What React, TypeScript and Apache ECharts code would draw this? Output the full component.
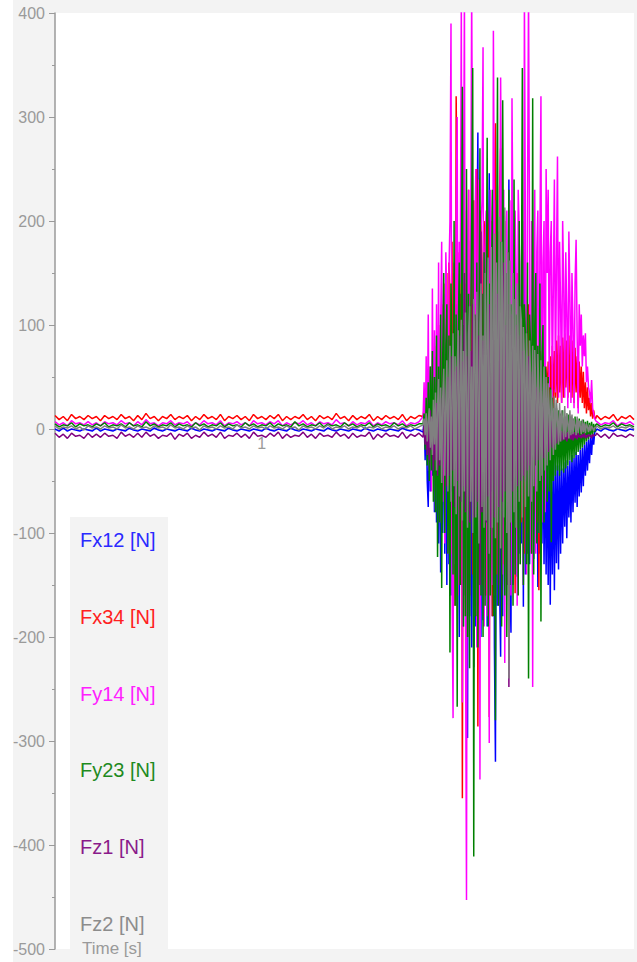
import React, { useEffect, useRef } from "react";
import * as echarts from "echarts";

// ---------- data ----------
const seriesNames = ["Fx12 [N]", "Fx34 [N]", "Fy14 [N]", "Fy23 [N]", "Fz1 [N]", "Fz2 [N]"];
const seriesColors = ["#0000ff", "#ff0000", "#ff00ff", "#008000", "#800080", "#808080"];
const legendTextColors = ["#2a2aff", "#ff2020", "#ff20ff", "#1e8a1e", "#8a1a8a", "#8c8c8c"];

const yMin = -500;
const yMax = 400;
const yStep = 100;
const timeMin = 0;
const timeMax = 2.8;
const timeTickLabels = ["1"];

// sampling of the recording (seconds)
const preStart = 0;
const preStep = 0.02;
const burstStart = 1.78;
const burstStep = 0.005;
const postStart = 2.62;
const postStep = 0.02;

// Fx12 (blue)
const fx12Pre = [
  0, -2, 1, -2, 0, -1, -2, 0, -1, -2,
  1, -2, 0, -1, -2, 0, -1, -2, 1, -1,
  -2, 0, -1, -2, 1, -1, -2, 0, -1, -2,
  0, -1, -2, 1, -1, -2, 0, -1, -2, 0,
  -1, -2, 1, -1, -2, 0, -1, -2, 0, -1,
  -2, 1, -1, -2, 0, -1, -2, 1, -1, -2,
  0, -1, -2, 0, -1, -2, 1, -1, -2, 0,
  -1, -2, 0, -1, -2, 1, -1, -2, 0, -1,
  -2, 0, -1, -2, 1, -1, -2, 0, -1,
];
const fx12Burst = [
  -3, 10, -30, 20, -50, -75, 25, -60, 35, -45, 40, -80,
  50, -90, 60, -110, 45, -138, 70, -100, 80, -120, 60, -150,
  90, -130, 100, -160, 80, -180, 110, -140, 120, -170, 100, -200,
  130, -150, 110, -190, 140, -160, 120, -297, 150, -180, 130, -210,
  160, -229, 140, -190, 170, 285, -170, 150, -200, 130, -184, 160,
  -160, 140, -190, 120, 246, -150, 130, -180, 110, -210, -320, 100,
  -170, 120, -150, -219, 90, -180, 110, -160, 100, -150, 80, 240,
  -140, -196, 90, -150, 70, -130, 80, -142, 60, -120, 70, -110,
  90, -171, 180, -140, 60, -120, 50, -130, 40, -110, 30, -125,
  35, -100, 20, -152, 25, -120, 10, -110, 0, -130, -20, -140,
  -30, -150, -25, -169, -35, -140, -30, -155, -28, -129, -35, -135,
  -30, -120, -38, -110, -32, -94, -30, -105, -35, -85, -30, -90,
  -25, -80, -28, -71, -22, -75, -25, -65, -20, -61, -18, -55,
  -15, -45, -12, -40, -10, -33, -8, -25, -5, -15, -3, -2,
];
const fx12Post = [0, -2, 1, -1, -2, 0, -1, -2, 0, -1];

// Fx34 (red)
const fx34Pre = [
  13, 9, 12, 8, 14, 10, 12, 9, 13, 10,
  12, 8, 13, 10, 12, 9, 14, 10, 12, 8,
  13, 9, 15, 10, 12, 8, 12, 10, 14, 9,
  12, 10, 13, 8, 12, 9, 14, 10, 12, 9,
  14, 8, 12, 10, 13, 9, 12, 8, 14, 10,
  12, 9, 13, 10, 14, 8, 12, 9, 12, 10,
  14, 9, 12, 8, 13, 10, 12, 9, 15, 10,
  12, 8, 13, 9, 12, 10, 14, 8, 12, 9,
  13, 10, 12, 9, 14, 8, 12, 10, 13,
];
const fx34Burst = [
  12, 20, -5, 35, -15, 50, -25, 40, -35, 60, -20, 70,
  -50, 80, -40, 100, -70, 90, 120, -60, 140, -90, 110, 150,
  -100, 160, 130, -120, 180, -140, 150, -170, 320, 200, -110, 170,
  -150, 190, -355, 160, 210, -180, 140, -200, 230, -160, 180, 200,
  -140, 220, -170, 190, 250, -286, 170, -190, 210, 160, -150, 200,
  180, -160, 220, 190, -277, 170, 200, -180, 150, 210, 294, -140,
  190, -150, 230, 270, -160, 180, -130, 200, 160, -150, 170, 140,
  -120, 160, 150, -110, 140, -158, 130, 150, -100, 120, 110, -90,
  130, 100, -120, 110, 90, -100, 120, 80, -110, 100, 90, -80,
  85, 70, -90, 80, -155, 75, 60, -60, 70, 50, -40, 60,
  30, 65, -20, 70, 25, 80, 20, 75, 30, 85, 25, 90,
  35, 80, 25, 88, 30, 92, 40, 85, 30, 90, 35, 80,
  30, 85, 25, 78, 35, 70, 20, 65, 30, 60, 25, 55,
  20, 45, 15, 40, 18, 30, 12, 25, 10, 18, 11, 10,
];
const fx34Post = [13, 9, 12, 10, 14, 8, 12, 10, 13, 9];

// Fy14 (magenta)
const fy14Pre = [
  7, 4, 6, 3, 8, 5, 6, 4, 7, 4,
  6, 3, 7, 5, 6, 4, 8, 5, 6, 3,
  7, 4, 9, 5, 6, 3, 6, 5, 8, 4,
  6, 5, 7, 3, 6, 4, 8, 5, 6, 4,
  8, 3, 6, 5, 7, 4, 6, 3, 8, 5,
  6, 4, 7, 5, 8, 3, 6, 4, 6, 5,
  8, 4, 6, 3, 7, 5, 6, 4, 9, 5,
  6, 3, 7, 4, 6, 5, 8, 3, 6, 4,
  7, 5, 6, 4, 8, 3, 6, 5, 7,
];
const fy14Burst = [
  12, 45, -10, 70, -25, 110, -40, 60, -60, 135, -30, 95,
  -78, 120, -50, 160, -90, 100, 180, -70, 130, -110, 170, 120,
  -120, 150, 200, 390, -150, -278, 160, -130, 210, 300, -160, 180,
  140, 420, -263, 190, 420, -180, -453, 170, 230, -140, 160, 420,
  200, -170, 180, 250, -210, 160, 240, -337, 190, 220, 367, -190,
  170, 210, -180, 150, -302, 230, 190, -150, 383, 180, -160, 220,
  200, -170, 160, 338, 190, -140, 230, -225, 170, 210, -150, 180,
  220, -160, 318, 170, -140, 210, 150, -170, 230, 190, -130, 160,
  200, -150, 420, 180, -140, 220, 420, 170, -120, 200, -248, 160,
  230, -120, 170, 210, -100, 180, 320, -90, 160, 200, -80, 250,
  150, 230, 40, 170, 200, 30, 140, 240, 35, 160, 262, 30,
  180, 120, 25, 200, 140, 30, 170, 110, 20, 190, 130, 25,
  150, 100, 20, 140, 182, 90, 15, 120, 80, 110, 60, 90,
  70, 92, 45, 60, 40, 35, 25, 47, 20, 15, 10, 8,
];
const fy14Post = [7, 4, 6, 5, 8, 3, 6, 5, 7, 4];

// Fy23 (green)
const fy23Pre = [
  5, 2, 4, 3, 6, 2, 5, 3, 4, 2,
  5, 3, 6, 2, 4, 3, 5, 2, 6, 3,
  4, 2, 7, 3, 5, 2, 4, 3, 6, 2,
  5, 3, 4, 2, 6, 3, 5, 2, 4, 3,
  6, 2, 5, 3, 4, 2, 6, 3, 5, 2,
  4, 3, 6, 2, 5, 3, 4, 2, 7, 3,
  5, 2, 4, 3, 6, 2, 5, 3, 4, 2,
  6, 3, 5, 2, 4, 3, 6, 2, 5, 3,
  4, 2, 6, 3, 5, 2, 4, 3, 5,
];
const fy23Burst = [
  5, 15, -20, 30, -35, 45, -50, 60, -40, 75, -70, 50,
  -80, 90, -123, 60, -90, 110, -153, 70, 150, -100, 80, 120,
  -120, 90, -215, 140, 70, -140, 200, -170, 110, -267, 90, 160,
  -150, 120, 329, -190, 100, -180, 250, -200, 130, -230, 90, 200,
  347, -411, 110, -180, 160, -210, 90, 270, -160, 130, -200, 170,
  -170, 120, 280, -190, 140, -160, 100, 230, -180, 120, -280, 150,
  338, -170, 110, 180, -190, 316, 100, -160, 150, -200, 90, 230,
  -150, 120, 100, -170, 240, -140, 110, 90, -160, 200, -130, 100,
  347, -150, 120, 90, -130, 160, -240, 110, 80, -120, 318, -140,
  100, 150, -110, 80, -100, 140, -185, 70, 100, -90, 60, 50,
  -70, 50, -60, 40, -109, 30, -50, 25, -45, 20, -40, 18,
  -45, 15, -40, 18, -42, 12, -38, 15, -35, 14, -30, 12,
  -32, 10, -28, 12, -25, 9, -22, 10, -20, 8, -18, 9,
  -15, 7, -12, 8, -10, 6, -8, 7, -6, 5, -3, 4,
];
const fy23Post = [5, 2, 4, 3, 6, 2, 5, 3, 4, 2];

// Fz1 (purple)
const fz1Pre = [
  -4, -8, -5, -9, -4, -7, -6, -9, -4, -8,
  -5, -8, -4, -7, -6, -9, -3, -7, -5, -8,
  -4, -8, -3, -7, -5, -9, -6, -7, -4, -10,
  -5, -7, -4, -9, -6, -8, -3, -7, -5, -8,
  -3, -9, -6, -7, -4, -8, -5, -9, -3, -7,
  -6, -8, -4, -7, -3, -9, -5, -8, -6, -7,
  -3, -8, -5, -9, -4, -7, -6, -8, -3, -7,
  -5, -9, -4, -8, -6, -7, -3, -10, -5, -8,
  -4, -7, -6, -8, -3, -9, -5, -7, -4,
];
const fz1Burst = [
  -8, 5, -15, 12, -25, 8, -30, 18, -20, 10, -40, 15,
  -30, 25, -45, 20, -35, 30, -50, 25, 40, -40, 20, -55,
  50, -45, 35, -60, 70, -40, 55, -75, 60, -50, 80, -65,
  90, -70, 65, -55, 150, -80, 70, -65, 100, -90, 75, -60,
  120, -85, 60, -75, 110, -70, 90, -150, 190, -80, 85, -70,
  100, -90, 80, -65, 120, -95, 70, -60, 110, -85, 90, -55,
  130, -75, 110, -65, 90, -70, 160, -60, 100, -55, 120, -248,
  95, -50, 110, -60, 80, -45, 100, -55, 70, -40, 90, -50,
  75, -45, 65, -50, 60, -40, 70, -35, 55, -45, 50, -30,
  45, -35, 40, -30, 35, -25, 38, -20, 25, -28, 20, -18,
  15, -22, 12, -20, 8, -18, 6, -15, 4, -14, 2, -12,
  0, -12, -2, -11, -3, -10, -4, -12, -3, -9, -5, -10,
  -4, -11, -3, -9, -5, -10, -4, -8, -6, -9, -5, -8,
  -4, -9, -6, -8, -5, -7, -6, -9, -5, -7, -6, -6,
];
const fz1Post = [-4, -8, -5, -9, -4, -7, -6, -8, -5, -7];

// Fz2 (gray)
const fz2Pre = [
  3, 0, 2, 1, 3, 0, 2, -1, 3, 1,
  2, 0, 3, 1, 2, 0, 4, 1, 2, 0,
  3, 1, 2, 0, 3, 1, 2, 0, 4, 1,
  2, 0, 3, 1, 2, -1, 3, 1, 2, 0,
  3, 1, 2, 0, 4, 1, 2, 0, 3, 1,
  2, 0, 3, 1, 2, 0, 3, 1, 2, -1,
  3, 1, 2, 0, 3, 1, 4, 0, 2, 1,
  3, 0, 2, 1, 3, 0, 2, 1, 3, 0,
  2, 1, 3, 0, 2, 1, 3, 0, 2,
];
const fz2Burst = [
  4, 10, -6, 15, -12, 8, 20, -18, 12, -25, 28, -15,
  35, -40, 22, 48, -30, 40, -52, 30, 58, -45, 25, 66,
  -60, 45, 80, -70, 35, 92, -55, 70, -82, 60, 95, -65,
  50, 105, -88, 75, -60, 112, 40, -95, 90, 118, -70, 60,
  -100, 125, 80, -85, 132, 55, -110, 100, 140, -75, 90, -95,
  150, -88, 110, 165, -120, 75, 175, -95, 130, 188, -105, 160,
  -90, 140, 204, -115, 180, 120, -85, 213, 150, -100, 170, -240,
  162, -90, 110, 150, -80, 125, -95, 140, 90, -70, 118, 105,
  -85, 98, 70, -75, 92, 60, -65, 85, 50, -70, 80, -55,
  76, 40, -60, 72, 35, -50, 66, -45, 30, 60, -40, 50,
  -35, 44, 20, -30, 38, 15, -25, 32, -20, 28, 10, -15,
  25, -12, 18, 8, -10, 22, -8, 15, 5, -9, 18, -6,
  14, -5, 10, 4, -6, 12, -4, 8, 3, -5, 9, -3,
  6, -4, 5, 2, -3, 4, -2, 3, 1, -2, 2, 1,
];
const fz2Post = [3, 0, 2, 1, 3, 0, 2, 1, 3, 0];

const preValues = [fx12Pre, fx34Pre, fy14Pre, fy23Pre, fz1Pre, fz2Pre];
const burstValues = [fx12Burst, fx34Burst, fy14Burst, fy23Burst, fz1Burst, fz2Burst];
const postValues = [fx12Post, fx34Post, fy14Post, fy23Post, fz1Post, fz2Post];

const toPairs = (vals: number[], start: number, step: number) =>
  vals.map((v, i) => [+(start + i * step).toFixed(4), v]);

const FONT = "Liberation Sans, Arial, sans-serif";

export default function App() {
  const ref = useRef<HTMLDivElement>(null);

  useEffect(() => {
    document.body.style.margin = "0";
    if (!ref.current) return;
    const chart = echarts.init(ref.current, undefined, { renderer: "svg" });

    const series = seriesNames.map((name, k) => ({
      name,
      type: "line",
      showSymbol: false,
      symbol: "none",
      clip: true,
      color: seriesColors[k],
      lineStyle: { width: 1.5, color: seriesColors[k] },
      emphasis: { disabled: true },
      data: [
        ...toPairs(preValues[k], preStart, preStep),
        ...toPairs(burstValues[k], burstStart, burstStep),
        ...toPairs(postValues[k], postStart, postStep),
      ],
    }));

    // grid: top 13, bottom 13 -> plot height 936; zero line sits above the bottom edge
    const plotHeight = 962 - 13 - 13;
    const zeroOffset = -(plotHeight * (0 - yMin)) / (yMax - yMin);

    chart.setOption({
      animation: false,
      backgroundColor: "#f3f3f3",
      grid: {
        left: 55,
        right: 0,
        top: 13,
        bottom: 13,
        show: true,
        backgroundColor: "#ffffff",
        borderWidth: 0,
      },
      xAxis: {
        type: "value",
        position: "bottom",
        offset: zeroOffset,
        min: timeMin,
        max: timeMax,
        interval: 1,
        axisLine: { onZero: false, lineStyle: { color: "#c4c4c4", width: 1 } },
        axisTick: { show: false },
        splitLine: { show: false },
        axisLabel: {
          color: "#9a9a9a",
          fontSize: 16,
          fontFamily: FONT,
          margin: 6,
          formatter: (v: number) => (timeTickLabels.includes(String(v)) ? String(v) : ""),
        },
      },
      yAxis: {
        type: "value",
        min: yMin,
        max: yMax,
        interval: yStep,
        axisLine: { show: true, lineStyle: { color: "#9a9a9a", width: 1.5 } },
        axisTick: { show: true, length: 6, lineStyle: { color: "#9a9a9a" } },
        minorTick: { show: true, splitNumber: 2, length: 3, lineStyle: { color: "#9a9a9a" } },
        splitLine: { show: false },
        axisLabel: {
          color: "#9a9a9a",
          fontSize: 16,
          fontFamily: FONT,
          margin: 10,
        },
      },
      legend: {
        orient: "vertical",
        left: 75,
        top: 530,
        padding: 0,
        icon: "none",
        itemWidth: 0,
        itemHeight: 20,
        itemGap: 56.8,
        selectedMode: false,
        textStyle: {
          fontSize: 20,
          lineHeight: 20,
          fontFamily: FONT,
        },
        data: seriesNames.map((name, k) => ({
          name,
          textStyle: { color: legendTextColors[k] },
        })),
        z: 120,
      },
      graphic: [
        {
          type: "rect",
          left: 0,
          top: 0,
          shape: { width: 13, height: 962 },
          style: { fill: "#ffffff" },
          z: -10,
          silent: true,
        },
        {
          type: "rect",
          left: 70,
          top: 517,
          shape: { width: 98, height: 445 },
          style: { fill: "#f3f3f3" },
          z: 100,
          silent: true,
        },
        {
          type: "text",
          left: 82,
          top: 940,
          style: {
            text: "Time [s]",
            fill: "#9a9a9a",
            fontSize: 17,
            fontFamily: FONT,
          },
          z: 110,
          silent: true,
        },
      ],
      series,
    });

    return () => chart.dispose();
  }, []);

  return (
    <div
      ref={ref}
      style={{ position: "absolute", left: 0, top: 0, width: 637, height: 962 }}
    />
  );
}
